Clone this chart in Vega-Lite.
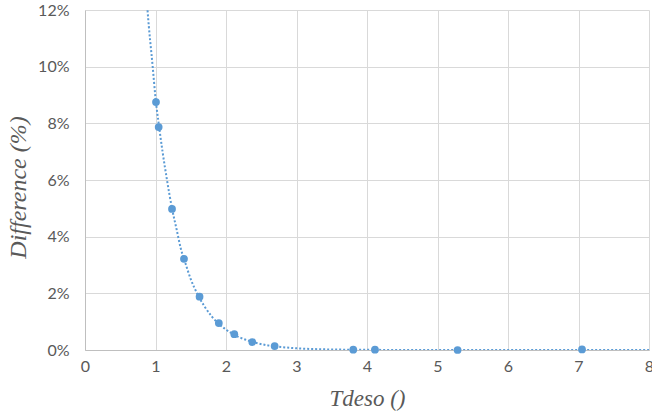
{
  "$schema": "https://vega.github.io/schema/vega-lite/v6.json",
  "autosize": {"type": "none"},
  "padding": {"left": 85, "top": 10, "right": 3, "bottom": 69},
  "width": 564,
  "height": 340,
  "background": "white",
  "config": {
    "view": {"stroke": null},
    "axis": {
      "labelFont": "Lato",
      "labelFontSize": 16,
      "labelColor": "#595959",
      "titleFont": "Times New Roman",
      "titleFontStyle": "italic",
      "titleFontWeight": "normal",
      "titleColor": "#595959",
      "gridColor": "#d9d9d9",
      "gridWidth": 1,
      "domainColor": "#bfbfbf",
      "ticks": false,
      "labelFlush": false,
      "labelOverlap": false
    }
  },
  "datasets": {
    "points": [
      {"x": 1.007, "y": 0.0875},
      {"x": 1.045, "y": 0.0787},
      {"x": 1.234, "y": 0.0498},
      {"x": 1.404, "y": 0.0322},
      {"x": 1.625, "y": 0.0188},
      {"x": 1.898, "y": 0.0095},
      {"x": 2.118, "y": 0.0056},
      {"x": 2.373, "y": 0.0028},
      {"x": 2.69, "y": 0.0014},
      {"x": 3.805, "y": 0.0001},
      {"x": 4.113, "y": 0.0001},
      {"x": 5.285, "y": 0.0},
      {"x": 7.05, "y": 0.0002}
    ],
    "trend": [
      {"x": 0.85, "y": 0.134},
      {"x": 0.887, "y": 0.12},
      {"x": 0.96, "y": 0.1},
      {"x": 1.0, "y": 0.089},
      {"x": 1.05, "y": 0.079},
      {"x": 1.1, "y": 0.070},
      {"x": 1.163, "y": 0.060},
      {"x": 1.234, "y": 0.050},
      {"x": 1.3, "y": 0.0425},
      {"x": 1.357, "y": 0.036},
      {"x": 1.42, "y": 0.031},
      {"x": 1.5, "y": 0.025},
      {"x": 1.6, "y": 0.0195},
      {"x": 1.7, "y": 0.0152},
      {"x": 1.8, "y": 0.0118},
      {"x": 1.9, "y": 0.0092},
      {"x": 2.0, "y": 0.0072},
      {"x": 2.1, "y": 0.0056},
      {"x": 2.2, "y": 0.0044},
      {"x": 2.4, "y": 0.0027},
      {"x": 2.6, "y": 0.0016},
      {"x": 2.8, "y": 0.0010},
      {"x": 3.0, "y": 0.0006},
      {"x": 3.3, "y": 0.0003},
      {"x": 3.6, "y": 0.00015},
      {"x": 4.0, "y": 0.00006},
      {"x": 5.0, "y": 0.00001},
      {"x": 6.0, "y": 0.0},
      {"x": 7.0, "y": 0.0},
      {"x": 8.0, "y": 0.0}
    ]
  },
  "layer": [
    {
      "data": {"name": "trend"},
      "mark": {"type": "line", "color": "#5b9bd5", "strokeWidth": 2, "strokeDash": [2, 2], "clip": true, "interpolate": "monotone"},
      "encoding": {
        "x": {
          "field": "x", "type": "quantitative",
          "scale": {"domain": [0, 8], "nice": false},
          "axis": {"title": "Tdeso ()", "titleFontSize": 23, "titlePadding": 13, "labelPadding": 8, "format": "d", "values": [0, 1, 2, 3, 4, 5, 6, 7, 8], "domain": true, "grid": true}
        },
        "y": {
          "field": "y", "type": "quantitative",
          "scale": {"domain": [0, 0.12], "nice": false},
          "axis": {"title": "Difference (%)", "titleFontSize": 24, "titlePadding": 7, "titleY": 177, "labelPadding": 16, "format": ".0%", "values": [0, 0.02, 0.04, 0.06, 0.08, 0.1, 0.12], "domain": true, "grid": true}
        }
      }
    },
    {
      "data": {"name": "points"},
      "mark": {"type": "point", "filled": true, "color": "#5b9bd5", "size": 60, "opacity": 1},
      "encoding": {
        "x": {"field": "x", "type": "quantitative"},
        "y": {"field": "y", "type": "quantitative"}
      }
    }
  ]
}
